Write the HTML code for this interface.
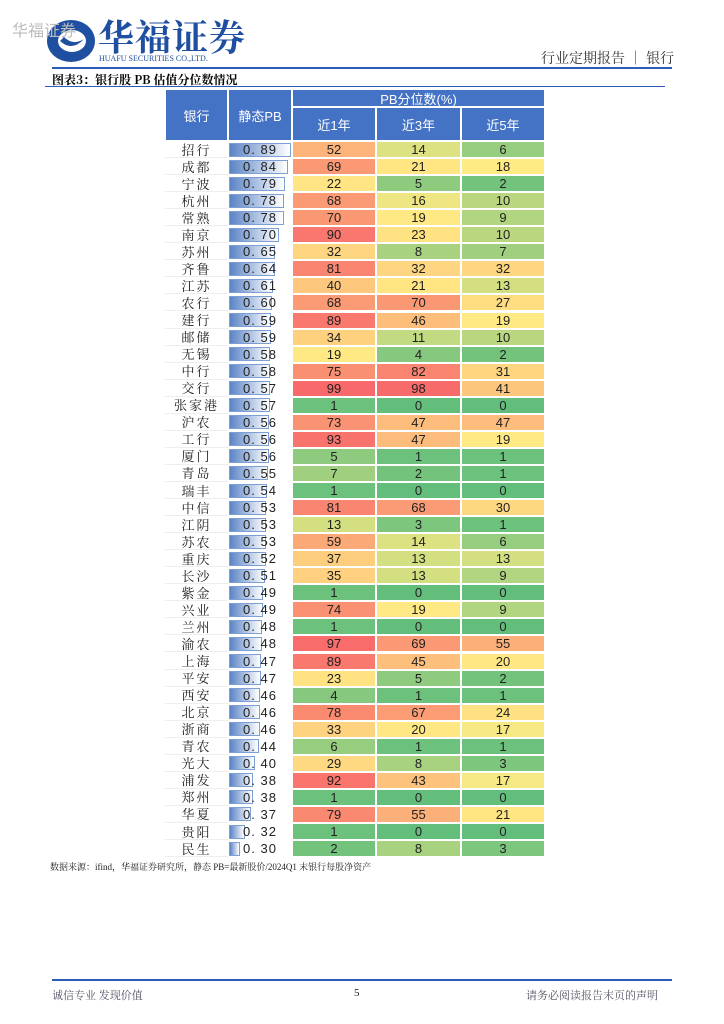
<!DOCTYPE html>
<html><head><meta charset="utf-8">
<style>
body{margin:0;background:#fff;font-family:"Liberation Serif","Noto Serif CJK SC",serif;}
#page{position:relative;width:724px;height:1024px;overflow:hidden;background:#fff;}
.abs{position:absolute;}
.cell{position:absolute;display:flex;align-items:center;justify-content:center;font-family:"Liberation Sans","Noto Sans CJK SC",sans-serif;font-size:13px;color:#222;box-sizing:border-box;}
.hd{position:absolute;background:#4472C4;color:#fff;display:flex;align-items:center;justify-content:center;font-family:"Liberation Sans","Noto Sans CJK SC",sans-serif;font-size:13px;border:1px solid #fff;box-sizing:border-box;}
</style></head><body>
<div id="page">
<svg class="abs" style="left:46px;top:19px" width="50" height="44" viewBox="0 0 50 44">
<ellipse cx="25" cy="22" rx="24" ry="21" fill="#1F4FA0"/><ellipse cx="26" cy="22" rx="14" ry="11" fill="#fff"/><path d="M14 22 Q26 33 38 20 Q27 27 18 18Z" fill="#1F4FA0"/></svg>
<div class="abs" style="left:12px;top:17px;font-size:16px;color:#bbb;font-family:'Liberation Sans','Noto Sans CJK SC',sans-serif;">华福证券</div>
<div class="abs" style="left:98px;top:14px;font-size:36px;font-weight:bold;color:#1F4FA0;font-family:'Noto Serif CJK SC',serif;letter-spacing:1px;line-height:44px;">华福证券</div>
<div class="abs" style="left:99px;top:54px;font-size:8px;color:#1F4FA0;">HUAFU SECURITIES CO.,LTD.</div>
<div class="abs" style="left:541px;top:48px;font-size:14px;color:#333;font-family:'Noto Serif CJK SC',serif;">行业定期报告 ｜ 银行</div>
<div class="abs" style="left:52px;top:67px;width:620px;height:2px;background:#2E5BB5;"></div>
<div class="abs" style="left:52px;top:71px;font-size:12px;font-weight:bold;color:#000;font-family:'Noto Serif CJK SC',serif;">图表3：银行股 PB 估值分位数情况</div>
<div class="abs" style="left:45px;top:86px;width:620px;height:1px;background:#2E5BB5;"></div>
<div id="table"></div>
<div class="abs" style="left:50px;top:860px;font-size:9px;color:#222;">数据来源：ifind，华福证券研究所，静态 PB=最新股价/2024Q1 末银行每股净资产</div>
<div class="abs" style="left:52px;top:979px;width:620px;height:2px;background:#2E5BB5;"></div>
<div class="abs" style="left:52px;top:987px;font-size:11px;color:#556;">诚信专业  发现价值</div>
<div class="abs" style="left:354px;top:987px;font-size:11px;color:#222;">5</div>
<div class="abs" style="left:526px;top:987px;font-size:11px;color:#556;">请务必阅读报告末页的声明</div>
</div>
<script>
const banks=["招行","成都","宁波","杭州","常熟","南京","苏州","齐鲁","江苏","农行","建行","邮储","无锡","中行","交行","张家港","沪农","工行","厦门","青岛","瑞丰","中信","江阴","苏农","重庆","长沙","紫金","兴业","兰州","渝农","上海","平安","西安","北京","浙商","青农","光大","浦发","郑州","华夏","贵阳","民生"];
const pb=[0.89,0.84,0.79,0.78,0.78,0.70,0.65,0.64,0.61,0.60,0.59,0.59,0.58,0.58,0.57,0.57,0.56,0.56,0.56,0.55,0.54,0.53,0.53,0.53,0.52,0.51,0.49,0.49,0.48,0.48,0.47,0.47,0.46,0.46,0.46,0.44,0.40,0.38,0.38,0.37,0.32,0.30];
const y1=[52,69,22,68,70,90,32,81,40,68,89,34,19,75,99,1,73,93,5,7,1,81,13,59,37,35,1,74,1,97,89,23,4,78,33,6,29,92,1,79,1,2];
const y3=[14,21,5,16,19,23,8,32,21,70,46,11,4,82,98,0,47,47,1,2,0,68,3,14,13,13,0,19,0,69,45,5,1,67,20,1,8,43,0,55,0,8];
const y5=[6,18,2,10,9,10,7,32,13,27,19,10,2,31,41,0,47,19,1,1,0,30,1,6,13,9,0,9,0,55,20,2,1,24,17,1,3,17,0,21,0,3];
const colHeads=["近1年","近3年","近5年"];
const T=document.getElementById('table');
const X=[165,228,292,376,461,545], TOP=89, SUB=107, HB=141, RH=17.05;
function add(html){T.insertAdjacentHTML('beforeend',html);}
add(`<div class="hd" style="left:${X[0]}px;top:${TOP}px;width:${X[1]-X[0]}px;height:${HB-TOP}px">银行</div>`);
add(`<div class="hd" style="left:${X[1]}px;top:${TOP}px;width:${X[2]-X[1]}px;height:${HB-TOP}px">静态PB</div>`);
add(`<div class="hd" style="left:${X[2]}px;top:${TOP}px;width:${X[5]-X[2]}px;height:${SUB-TOP}px">PB分位数(%)</div>`);
colHeads.forEach((h,i)=>add(`<div class="hd" style="left:${X[2+i]}px;top:${SUB}px;width:${X[3+i]-X[2+i]}px;height:${HB-SUB}px">${h}</div>`));
const all=[...y1,...y3,...y5].slice().sort((a,b)=>a-b);
const mn=all[0],mx=all[all.length-1],md=Math.max(all[Math.floor(all.length/2)],18);
const G=[99,190,123],Y=[255,235,132],R=[248,105,107];
function mix(a,b,t){return `rgb(${a.map((v,i)=>Math.round(v+(b[i]-v)*t)).join(',')})`;}
function color(v){return v<=md?mix(G,Y,(v-mn)/(md-mn)):mix(Y,R,(v-md)/(mx-md));}
const pbMax=Math.max(...pb), pbMin=Math.min(...pb);
function barW(v){return 11+51*Math.pow((v-pbMin)/(pbMax-pbMin),0.7);}
banks.forEach((b,r)=>{
  const top=HB+r*RH;
  add(`<div class="cell" style="left:${X[0]}px;top:${top}px;width:${X[1]-X[0]}px;height:${RH}px;font-family:'Noto Serif CJK SC',serif;letter-spacing:2px;border-bottom:1px solid #eee">${b}</div>`);
  add(`<div class="abs" style="left:${X[1]+1}px;top:${top+1.5}px;width:${barW(pb[r])}px;height:${RH-3}px;background:linear-gradient(90deg,#5B84C6,#fff);border:1px solid #7E9FD3;box-sizing:border-box"></div>`);
  add(`<div class="cell" style="left:${X[1]}px;top:${top}px;width:${X[2]-X[1]}px;height:${RH}px;letter-spacing:1px">${pb[r].toFixed(2).replace('.','. ')}</div>`);
  [y1,y3,y5].forEach((s,c)=>{
    add(`<div class="cell" style="left:${X[2+c]}px;top:${top}px;width:${X[3+c]-X[2+c]}px;height:${RH}px;background:${color(s[r])};border:1px solid #fff">${s[r]}</div>`);
  });
});
</script>
</body></html>
